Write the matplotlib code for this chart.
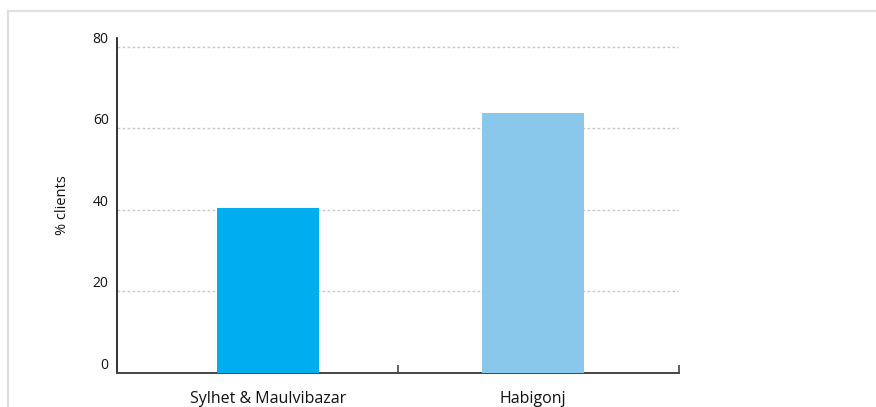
import matplotlib.pyplot as plt
from matplotlib.lines import Line2D
from matplotlib.transforms import ScaledTranslation

# dados
regioes = ['Sylhet & Maulvibazar', 'Habigonj']
pct_clientes = [40.5, 63.9]
cores = ['#00adee', '#8ac8eb']
yticks = [0, 20, 40, 60, 80]

plt.rcParams['font.family'] = ['Open Sans', 'DejaVu Sans']

fig = plt.figure(figsize=(8.76, 4.07), dpi=100)
ax = fig.add_axes([117/876, 1-373/407, (679-117)/876, (373-38)/407])

x = list(range(len(regioes)))
ax.bar(x, pct_clientes, width=0.385, color=cores, zorder=3)

ax.set_xlim(-0.57, 1.55)
ax.set_ylim(0, 82.2)

# grade pontilhada
for v in yticks[1:]:
    ax.axhline(v, color='#c8c8c8', lw=1.0, ls=(0, (2, 1.6)), zorder=1)

ax.set_yticks(yticks)
ax.set_yticklabels([str(v) for v in yticks], fontsize=10, color='#111111')
ax.tick_params(axis='y', length=0, pad=6)
for lbl in ax.get_yticklabels():
    lbl.set_transform(lbl.get_transform() + ScaledTranslation(0, 7/72, fig.dpi_scale_trans))

ax.set_xticks(x)
ax.set_xticklabels(regioes, fontsize=11.5, color='#111111')
ax.tick_params(axis='x', length=0, pad=13)
ax.set_xticks([0.49, 1.55], minor=True)
ax.tick_params(axis='x', which='minor', direction='in', length=6, width=1.2, color='#444444')

ax.set_ylabel('% clients', fontsize=10.5, color='#111111', labelpad=16.5)

for s in ['top', 'right']:
    ax.spines[s].set_visible(False)
ax.spines['left'].set_color('#111111')
ax.spines['left'].set_linewidth(1.2)
ax.spines['bottom'].set_color('#444444')
ax.spines['bottom'].set_linewidth(1.4)

# moldura cinza (topo e esquerda)
fig.add_artist(Line2D([7.5/876, 1], [1-10.5/407, 1-10.5/407], color='#e0e0e0', lw=1.6, transform=fig.transFigure))
fig.add_artist(Line2D([7.5/876, 7.5/876], [0, 1-10.5/407], color='#e0e0e0', lw=1.6, transform=fig.transFigure))

fig.savefig('out.png', dpi=100)
